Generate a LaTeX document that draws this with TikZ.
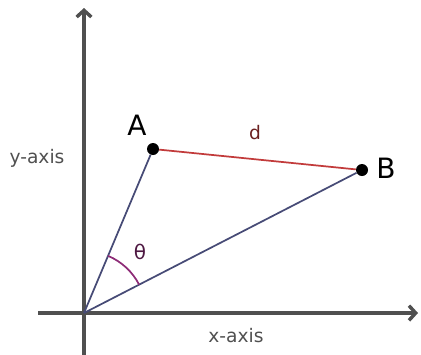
\documentclass[tikz,border=0pt]{standalone}
\usepackage{fontspec}
\setmainfont{DejaVu Sans}
\usetikzlibrary{arrows.meta,angles}
\definecolor{axisGray}{HTML}{505050}
\definecolor{rayBlue}{HTML}{474B76}
\definecolor{distRed}{HTML}{C23B3B}
\definecolor{arcPurple}{HTML}{8E2C77}

\begin{document}
\begin{tikzpicture}[
    x=0.75pt, y=-0.75pt,
    axis/.style = {line width=2.6pt, color=axisGray, -{Straight Barb[length=5pt,width=11pt]}},
    ray/.style = {line width=1.3pt, color=rayBlue},
    dist/.style = {line width=1.3pt, color=distRed},
    point/.style = {circle, fill=black, inner sep=0pt, minimum size=9pt},
    axislabel/.style = {font=\fontsize{14}{16}\selectfont, text=axisGray},
    ptlabel/.style = {font=\fontsize{21}{24}\selectfont, text=black}
]
    \useasboundingbox (0,0) rectangle (421,354);

    % Axes
    \coordinate (O) at (84,313);
    \coordinate (ybot) at (84,356);
    \coordinate (ytop) at (84,8);
    \coordinate (xleft) at (38,313);
    \coordinate (xright) at (418,313);
    \draw [axis] (ybot) -- (ytop);
    \draw [axis] (xleft) -- (xright);
    \node [axislabel] (ylab) at (37,158) {y-axis};
    \node [axislabel] (xlab) at (236,336) {x-axis};

    % Points and segments
    \node [point] (A) at (153,149) {};
    \node [point] (B) at (362,170) {};
    \draw [ray] (O) -- (A);
    \draw [ray] (O) -- (B);
    \draw [dist] (A) -- (B);
    \node [ptlabel] (Alab) at (137,125) {A};
    \node [ptlabel] (Blab) at (386,168) {B};
    \node [font=\fontsize{14}{16}\selectfont, text=distRed!55!black] (dlab) at (255,133) {d};

    % Angle
    \pic [draw=arcPurple, line width=1.3pt, angle radius=46.5pt] {angle = B--O--A};
    \node [font=\fontsize{15}{16}\selectfont, text=arcPurple!55!black] (theta) at (140,252) {θ};
\end{tikzpicture}
\end{document}
